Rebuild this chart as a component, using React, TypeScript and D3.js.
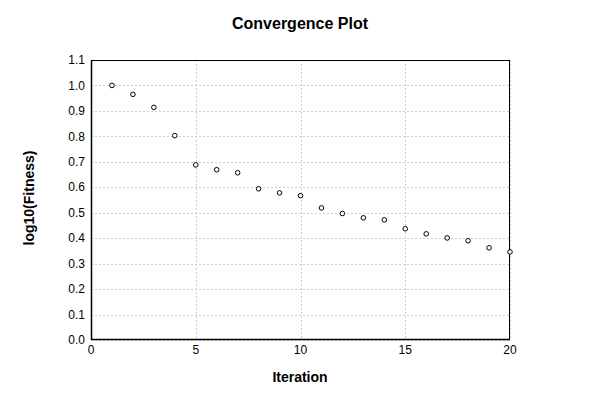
import React from "react";
import * as d3 from "d3";

const iterations = [1, 2, 3, 4, 5, 6, 7, 8, 9, 10, 11, 12, 13, 14, 15, 16, 17, 18, 19, 20];
const fitness = [1.0, 0.965, 0.914, 0.803, 0.688, 0.669, 0.657, 0.594, 0.578, 0.567, 0.519, 0.497, 0.48, 0.472, 0.437, 0.417, 0.401, 0.39, 0.362, 0.346];
const xTicks = [0, 5, 10, 15, 20];
const yTicks = [0, 0.1, 0.2, 0.3, 0.4, 0.5, 0.6, 0.7, 0.8, 0.9, 1.0, 1.1];

export default function App() {
  const W = 600, H = 400;
  const left = 91, right = 510, top = 60, bottom = 340;
  const x = d3.scaleLinear().domain([0, 20]).range([left, right]);
  const y = d3.scaleLinear().domain([0, 1.1]).range([bottom, top]);
  const font = "'Liberation Sans', Arial, sans-serif";
  return (
    <svg width={W} height={H} style={{ position: "absolute", left: 0, top: 0, background: "#fff" }} fontFamily={font}>
      <rect x={0} y={0} width={W} height={H} fill="#fff" />
      {yTicks.map((t) => (
        <line key={"gy" + t} x1={left} x2={right} y1={Math.round(y(t)) + 0.5} y2={Math.round(y(t)) + 0.5} stroke="#cfcfcf" strokeDasharray="2,2" />
      ))}
      {xTicks.map((t) => (
        <line key={"gx" + t} x1={Math.round(x(t)) + 0.5} x2={Math.round(x(t)) + 0.5} y1={top} y2={bottom} stroke="#cfcfcf" strokeDasharray="2,2" />
      ))}
      <rect x={left + 0.5} y={top + 0.5} width={right - left - 1} height={bottom - top - 1} fill="none" stroke="#000" strokeWidth={1} />
      <line x1={left + 0.5} x2={left + 0.5} y1={top} y2={bottom} stroke="#000" strokeWidth={1.5} />
      <line x1={left} x2={right} y1={bottom - 0.5} y2={bottom - 0.5} stroke="#000" strokeWidth={1.5} />
      {yTicks.map((t) => (
        <text key={"ty" + t} x={left - 6} y={y(t)} dy="0.35em" textAnchor="end" fontSize={12} fill="#000">
          {d3.format(".1f")(t)}
        </text>
      ))}
      {xTicks.map((t) => (
        <text key={"tx" + t} x={x(t)} y={bottom + 14} textAnchor="middle" fontSize={12} fill="#000">
          {t}
        </text>
      ))}
      {iterations.map((it, i) => (
        <circle key={"p" + it} cx={x(it)} cy={y(fitness[i])} r={2.3} fill="#fff" stroke="#000" strokeWidth={1} />
      ))}
      <text x={300} y={29} textAnchor="middle" fontSize={16} fontWeight="bold" fill="#000">Convergence Plot</text>
      <text x={300} y={382} textAnchor="middle" fontSize={14} fontWeight="bold" fill="#000">Iteration</text>
      <text transform={`translate(34,198) rotate(-90)`} textAnchor="middle" fontSize={14} fontWeight="bold" fill="#000">log10(Fitness)</text>
    </svg>
  );
}
